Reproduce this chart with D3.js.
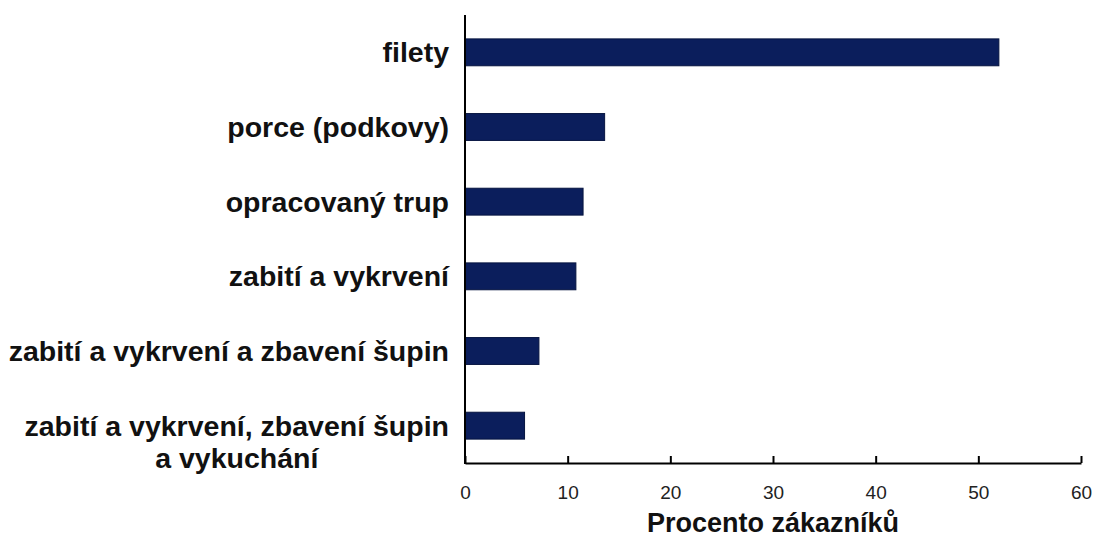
<!DOCTYPE html>
<html>
<head>
<meta charset="utf-8">
<script src="https://cdn.jsdelivr.net/npm/d3@7"></script>
<style>
  html, body { margin: 0; padding: 0; background: #ffffff; }
  svg { display: block; }
</style>
</head>
<body>
<svg id="chart" width="1096" height="542"></svg>
<script>
// Share of customers by preferred form of fish processing (%)
const categories = [
  ["filety"],
  ["porce (podkovy)"],
  ["opracovaný trup"],
  ["zabití a vykrvení"],
  ["zabití a vykrvení a zbavení šupin"],
  ["zabití a vykrvení, zbavení šupin", "a vykuchání"]
];
const values = [52, 13.6, 11.5, 10.8, 7.2, 5.8];
const xTicks = [0, 10, 20, 30, 40, 50, 60];
const xTitle = "Procento zákazníků";

const svg = d3.select("#chart");
const plotLeft = 465, plotRight = 1081, plotTop = 15, plotBottom = 463;
const font = "'Liberation Sans', Arial, sans-serif";

const x = d3.scaleLinear().domain([0, 60]).range([plotLeft, plotRight]);
const y = d3.scaleBand()
  .domain(d3.range(categories.length))
  .range([plotTop, plotBottom])
  .paddingInner(0.64)
  .paddingOuter(0.32);

// bars
svg.append("g").selectAll("rect")
  .data(values)
  .join("rect")
  .attr("x", x(0))
  .attr("y", (d, i) => y(i))
  .attr("width", d => x(d) - x(0))
  .attr("height", y.bandwidth())
  .attr("fill", "#0b1e5c")
  .attr("stroke", "#061440")
  .attr("stroke-width", 1);

// x axis with inward ticks
const xAxis = svg.append("g")
  .attr("transform", `translate(0,${plotBottom})`)
  .call(d3.axisBottom(x).tickValues(xTicks).tickSize(-7).tickSizeOuter(0).tickPadding(23));
xAxis.select(".domain").attr("stroke", "#000").attr("stroke-width", 2);
xAxis.selectAll(".tick line").attr("stroke", "#000").attr("stroke-width", 2);
xAxis.selectAll(".tick text")
  .attr("font-family", font)
  .attr("font-size", 19)
  .attr("fill", "#222");

// y axis line
svg.append("line")
  .attr("x1", plotLeft).attr("x2", plotLeft)
  .attr("y1", plotTop).attr("y2", plotBottom + 1)
  .attr("stroke", "#000").attr("stroke-width", 2);

// category labels (multi-line labels are centred under each other)
const labelRight = plotLeft - 16;
categories.forEach((lines, i) => {
  const cy = y(i) + y.bandwidth() / 2;
  const g = svg.append("g");
  const texts = lines.map((line, k) =>
    g.append("text")
      .attr("y", cy + k * 32)
      .attr("dy", "0.35em")
      .attr("font-family", font)
      .attr("font-weight", "bold")
      .attr("font-size", 28.5)
      .attr("fill", "#111")
      .text(line)
  );
  if (lines.length === 1) {
    texts[0].attr("x", labelRight).attr("text-anchor", "end");
  } else {
    const w = d3.max(texts, t => t.node().getComputedTextLength());
    texts.forEach(t => t.attr("x", labelRight - w / 2).attr("text-anchor", "middle"));
  }
});

// x axis title
svg.append("text")
  .attr("x", (plotLeft + plotRight) / 2)
  .attr("y", 523)
  .attr("dy", "0.35em")
  .attr("text-anchor", "middle")
  .attr("font-family", font)
  .attr("font-weight", "bold")
  .attr("font-size", 27)
  .attr("fill", "#111")
  .text(xTitle);
</script>
</body>
</html>
